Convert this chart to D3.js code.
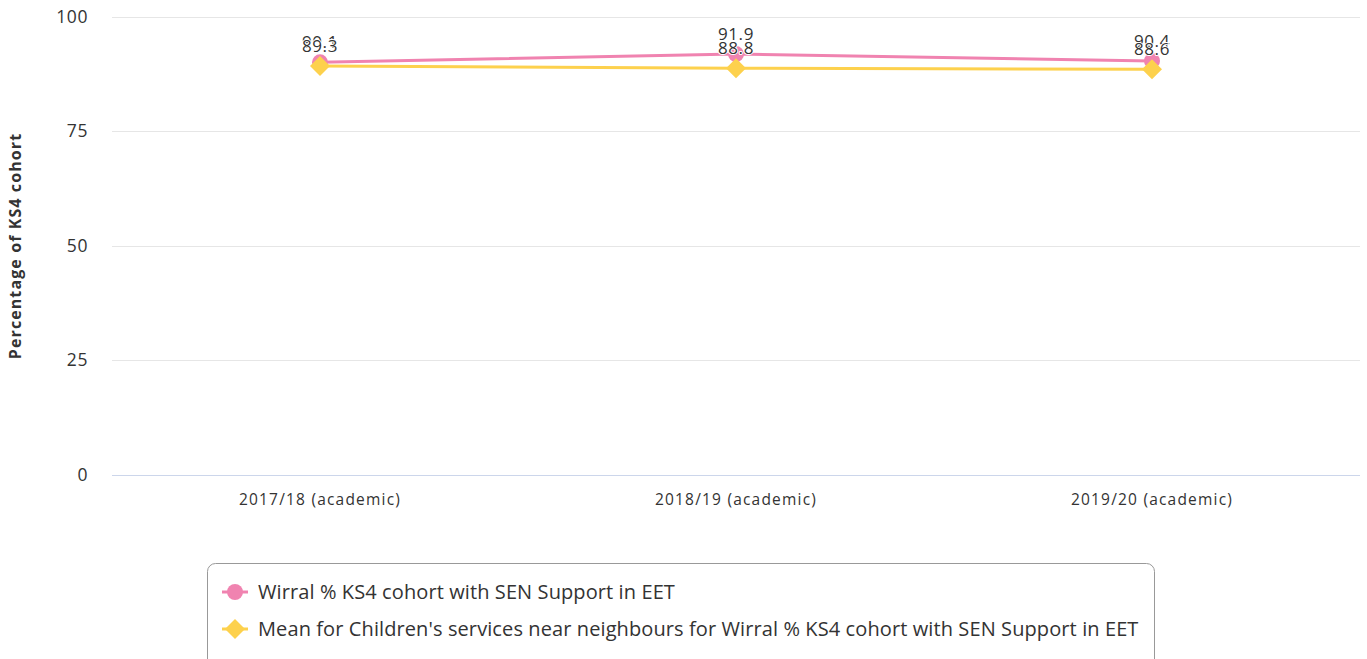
<!DOCTYPE html>
<html><head><meta charset="utf-8">
<script src="https://cdn.jsdelivr.net/npm/d3@7"></script>
<style>body{margin:0;background:#fff;font-family:"Open Sans",sans-serif;}</style>
</head><body><svg id="c" width="1367" height="659"></svg>
<script>
const categories = ["2017/18 (academic)", "2018/19 (academic)", "2019/20 (academic)"];
const wirral = [90.1, 91.9, 90.4];
const neighbours = [89.3, 88.8, 88.6];
const yTicks = [0, 25, 50, 75, 100];
const seriesNames = ["Wirral % KS4 cohort with SEN Support in EET",
  "Mean for Children's services near neighbours for Wirral % KS4 cohort with SEN Support in EET"];
const colors = ["#f083b0", "#fdd14d"];

const svg = d3.select("#c");
const L = 112, R = 1360, T = 17, B = 475;
const x = d3.scaleBand().domain(categories).range([L, R]);
const y = d3.scaleLinear().domain([0, 100]).range([B, T]);

// grid
svg.append("g").selectAll("line").data(yTicks).join("line")
  .attr("x1", L).attr("x2", R).attr("y1", d => y(d)).attr("y2", d => y(d))
  .attr("stroke", d => d === 0 ? "#ccd6eb" : "#e6e6e6").attr("stroke-width", 1)
  .attr("shape-rendering", "crispEdges");

// y axis labels
const yAxis = d3.axisLeft(y).tickValues(yTicks).tickSize(0).tickPadding(0);
const gy = svg.append("g").attr("transform", `translate(${L - 24},0)`).call(yAxis);
gy.select(".domain").remove();
gy.selectAll("text").attr("font-size", 17.5).attr("fill", "#333").attr("font-family", "Open Sans")
  .attr("letter-spacing", 0.6).attr("dy", "0.3em");

// x axis labels
const xAxis = d3.axisBottom(x).tickSize(0).tickPadding(0);
const gx = svg.append("g").attr("transform", `translate(0,${B + 19})`).call(xAxis);
gx.select(".domain").remove();
gx.selectAll("text").attr("font-size", 15.5).attr("letter-spacing", 1.2).attr("fill", "#333").attr("font-family", "Open Sans");

// y title
svg.append("text").attr("transform", `translate(21,${(T + B) / 2}) rotate(-90)`)
  .attr("text-anchor", "middle").attr("font-size", 16).attr("font-weight", "bold")
  .attr("letter-spacing", 1.1).attr("fill", "#333").text("Percentage of KS4 cohort");

const cx = d => x(d) + x.bandwidth() / 2;
const series = [wirral, neighbours];
const line = d3.line().x((d, i) => cx(categories[i])).y(d => y(d));
const diamond = (s) => `M0,${-s}L${s},0L0,${s}L${-s},0Z`;

series.forEach((vals, si) => {
  svg.append("path").datum(vals).attr("d", line).attr("fill", "none")
    .attr("stroke", colors[si]).attr("stroke-width", 3);
  const g = svg.append("g");
  vals.forEach((v, i) => {
    if (si === 0) {
      g.append("circle").attr("cx", cx(categories[i])).attr("cy", y(v)).attr("r", 8).attr("fill", colors[si]);
    } else {
      g.append("path").attr("d", diamond(10)).attr("transform", `translate(${cx(categories[i])},${y(v)})`).attr("fill", colors[si]);
    }
  });
});
series.forEach((vals, si) => {
  svg.append("g").selectAll("text").data(vals).join("text")
    .attr("x", (d, i) => cx(categories[i])).attr("y", d => y(d) - 14)
    .attr("text-anchor", "middle").attr("font-size", 17).attr("letter-spacing", 0.6).attr("fill", "#333")
    .attr("stroke", "#fff").attr("stroke-width", 2).attr("stroke-linejoin", "round")
    .attr("paint-order", "stroke")
    .text(d => d.toFixed(1));
});

// legend
const lg = svg.append("g");
lg.append("rect").attr("x", 207.5).attr("y", 563.5).attr("width", 947).attr("height", 110)
  .attr("rx", 8).attr("fill", "#fff").attr("stroke", "#999");
seriesNames.forEach((n, i) => {
  const yy = 592 + i * 37;
  lg.append("line").attr("x1", 222).attr("x2", 248).attr("y1", yy).attr("y2", yy)
    .attr("stroke", colors[i]).attr("stroke-width", 3);
  if (i === 0) lg.append("circle").attr("cx", 235).attr("cy", yy).attr("r", 8).attr("fill", colors[i]);
  else lg.append("path").attr("d", diamond(10)).attr("transform", `translate(235,${yy})`).attr("fill", colors[i]);
  lg.append("text").attr("x", 258).attr("y", yy).attr("dy", "0.36em").attr("font-size", 20)
    .attr("letter-spacing", 0.1).attr("fill", "#333").text(n);
});
</script></body></html>
